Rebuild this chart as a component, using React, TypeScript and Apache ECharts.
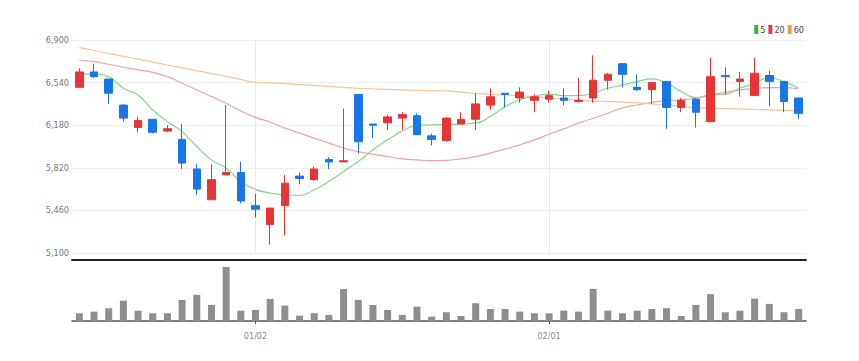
import React, { useEffect, useRef } from "react";
import * as echarts from "echarts";

const dates = [
  "12/14", "12/15", "12/16", "12/19", "12/20", "12/21", "12/22", "12/23", "12/26", "12/27", "12/28", "12/29",
  "01/02", "01/03", "01/04", "01/05", "01/06", "01/09", "01/10", "01/11", "01/12", "01/13", "01/16", "01/17",
  "01/18", "01/19", "01/20", "01/25", "01/26", "01/27", "01/30", "01/31", "02/01", "02/02", "02/03", "02/06",
  "02/07", "02/08", "02/09", "02/10", "02/13", "02/14", "02/15", "02/16", "02/17", "02/20", "02/21", "02/22",
  "02/23", "02/24",
];

// [open, close, low, high]
const candles = [
  [6500, 6630, 6500, 6660], [6630, 6590, 6580, 6700], [6570, 6450, 6360, 6570], [6350, 6240, 6210, 6360],
  [6160, 6220, 6120, 6250], [6230, 6120, 6110, 6230], [6130, 6150, 6120, 6180], [6060, 5860, 5810, 6190],
  [5810, 5640, 5590, 5850], [5550, 5720, 5550, 5850], [5760, 5780, 5760, 6350], [5780, 5540, 5520, 5870],
  [5500, 5470, 5400, 5600], [5340, 5480, 5170, 5480], [5500, 5690, 5250, 5760], [5750, 5730, 5680, 5780],
  [5720, 5810, 5710, 5830], [5890, 5870, 5810, 5910], [5870, 5880, 5870, 6320], [6440, 6040, 5940, 6440],
  [6190, 6180, 6070, 6190], [6200, 6250, 6140, 6270], [6240, 6270, 6140, 6290], [6260, 6100, 6100, 6280],
  [6090, 6060, 6010, 6110], [6050, 6240, 6040, 6250], [6190, 6230, 6190, 6290], [6230, 6360, 6140, 6450],
  [6350, 6420, 6310, 6490], [6450, 6440, 6330, 6450], [6410, 6460, 6370, 6500], [6390, 6420, 6290, 6440],
  [6400, 6430, 6370, 6470], [6410, 6390, 6350, 6490], [6380, 6390, 6370, 6580], [6410, 6560, 6370, 6770],
  [6560, 6610, 6480, 6620], [6700, 6610, 6500, 6700], [6500, 6480, 6470, 6610], [6480, 6540, 6360, 6540],
  [6550, 6330, 6150, 6550], [6330, 6390, 6290, 6410], [6400, 6290, 6160, 6410], [6210, 6590, 6210, 6750],
  [6600, 6590, 6440, 6670], [6550, 6570, 6420, 6630], [6430, 6620, 6430, 6750], [6600, 6550, 6340, 6640],
  [6550, 6380, 6290, 6550], [6410, 6280, 6230, 6410],
];

const ma5 = [
  6611, 6611, 6590, 6492, 6436, 6309, 6211, 6126, 6000, 5887, 5817, 5704, 5638, 5606, 5592, 5586, 5634, 5704,
  5789, 5873, 5972, 6056, 6132, 6177, 6183, 6187, 6189, 6197, 6253, 6337, 6394, 6427, 6442, 6430, 6430, 6450,
  6492, 6520, 6548, 6571, 6535, 6464, 6413, 6436, 6442, 6492, 6535, 6582, 6548, 6492,
];

const ma20 = [
  6731, 6717, 6695, 6670, 6647, 6627, 6590, 6535, 6478, 6422, 6366, 6301, 6246, 6205, 6155, 6113, 6071, 6029,
  5986, 5957, 5935, 5915, 5896, 5887, 5881, 5883, 5896, 5915, 5944, 5978, 6014, 6056, 6104, 6149, 6197, 6239,
  6281, 6326, 6351, 6374, 6385, 6394, 6408, 6436, 6459, 6478, 6492, 6497, 6497, 6486,
];

const ma60 = [
  6835, 6811, 6786, 6762, 6738, 6713, 6689, 6664, 6641, 6616, 6592, 6567, 6543, 6540, 6531, 6524, 6516, 6508,
  6499, 6492, 6487, 6483, 6479, 6475, 6472, 6470, 6459, 6449, 6442, 6436, 6429, 6423, 6409, 6400, 6391, 6384,
  6380, 6375, 6368, 6360, 6351, 6339, 6326, 6323, 6321, 6318, 6313, 6309, 6305, 6301,
];

// volume, thousands of shares
const volumes = [
  77, 93, 127, 203, 103, 77, 77, 210, 260, 160, 537, 103, 110, 220, 153, 53, 77, 60, 317, 210, 160, 110, 60, 143,
  43, 87, 50, 177, 120, 120, 93, 77, 77, 103, 93, 320, 103, 77, 103, 120, 127, 50, 160, 267, 87, 103, 223, 170,
  87, 120,
];

const markedDates = ["01/02", "02/01"];
const legendNames = ["5", "20", "60"];

const FONT = "'Liberation Sans Narrow', 'DejaVu Sans Condensed', 'Liberation Sans', sans-serif";

export default function App() {
  const ref = useRef<HTMLDivElement>(null);

  useEffect(() => {
    if (!ref.current) return;
    const chart = echarts.init(ref.current, undefined, { renderer: "svg" });
    const isMarked = (idx: number) => markedDates.includes(dates[idx]);
    chart.setOption({
      animation: false,
      backgroundColor: "#ffffff",
      legend: {
        data: [
          { name: legendNames[0], itemStyle: { color: "#2fb82f" } },
          { name: legendNames[1], itemStyle: { color: "#ee3b3b" } },
          { name: legendNames[2], itemStyle: { color: "#f09a3e" } },
        ],
        right: 50,
        top: 20,
        icon: "rect",
        itemWidth: 4,
        itemHeight: 9,
        itemGap: 3,
        textStyle: { fontSize: 9, color: "#444", fontFamily: FONT, padding: [0, 0, 0, -3] },
      },
      grid: [
        { left: 72, right: 53, top: 40, height: 213 },
        { left: 72, right: 53, top: 267, height: 54 },
      ],
      xAxis: [
        {
          type: "category",
          gridIndex: 0,
          data: dates,
          boundaryGap: true,
          offset: 7,
          axisLine: { show: true, lineStyle: { color: "#222", width: 2 } },
          axisTick: { show: false },
          axisLabel: { show: false },
          splitLine: { show: false },
        },
        {
          type: "category",
          gridIndex: 1,
          data: dates,
          boundaryGap: true,
          axisLine: { show: true, lineStyle: { color: "#555", width: 1.5 } },
          axisTick: { show: true, alignWithLabel: true, interval: (i: number) => isMarked(i), length: 3, lineStyle: { color: "#555" } },
          axisLabel: {
            show: true,
            interval: (i: number) => isMarked(i),
            fontSize: 9,
            color: "#888",
            fontFamily: FONT,
            margin: 10,
          },
          splitLine: { show: false },
        },
      ],
      yAxis: [
        {
          type: "value",
          gridIndex: 0,
          min: 5100,
          max: 6900,
          interval: 360,
          axisLine: { show: false },
          axisTick: { show: false },
          axisLabel: {
            fontSize: 9,
            color: "#777",
            fontFamily: FONT,
            margin: 3,
            formatter: (v: number) => v.toLocaleString("en-US"),
          },
          splitLine: { show: true, lineStyle: { color: "#eeeeee", width: 1 } },
        },
        {
          type: "value",
          gridIndex: 1,
          min: 0,
          max: "dataMax",
          axisLine: { show: false },
          axisTick: { show: false },
          axisLabel: { show: false },
          splitLine: { show: false },
        },
      ],
      series: [
        {
          type: "candlestick",
          xAxisIndex: 0,
          yAxisIndex: 0,
          data: candles,
          barWidth: 8,
          itemStyle: {
            color: "#e53535",
            color0: "#1976e6",
            borderColor: "#e53535",
            borderColor0: "#1976e6",
            borderWidth: 1,
          },
          markLine: {
            silent: true,
            symbol: ["none", "none"],
            label: { show: false },
            lineStyle: { color: "#eaeaea", type: "solid", width: 1 },
            data: markedDates.map((d) => ({ xAxis: d })),
            z: 0,
          },
        },
        {
          name: legendNames[0],
          type: "line",
          xAxisIndex: 0,
          yAxisIndex: 0,
          data: ma5,
          smooth: true,
          symbol: "none",
          itemStyle: { color: "#2fb82f" },
          lineStyle: { color: "#86d586", width: 1.2 },
          z: 1,
        },
        {
          name: legendNames[1],
          type: "line",
          xAxisIndex: 0,
          yAxisIndex: 0,
          data: ma20,
          smooth: true,
          symbol: "none",
          itemStyle: { color: "#ee3b3b" },
          lineStyle: { color: "#f3a0aa", width: 1.2 },
          z: 1,
        },
        {
          name: legendNames[2],
          type: "line",
          xAxisIndex: 0,
          yAxisIndex: 0,
          data: ma60,
          smooth: true,
          symbol: "none",
          itemStyle: { color: "#f09a3e" },
          lineStyle: { color: "#f6c495", width: 1.2 },
          z: 1,
        },
        {
          type: "bar",
          xAxisIndex: 1,
          yAxisIndex: 1,
          data: volumes,
          barWidth: 7,
          itemStyle: { color: "#8e8e8e" },
        },
      ],
    });
    return () => chart.dispose();
  }, []);

  return (
    <div
      ref={ref}
      style={{ position: "fixed", left: 0, top: 0, width: 859, height: 361, background: "#fff" }}
    />
  );
}
